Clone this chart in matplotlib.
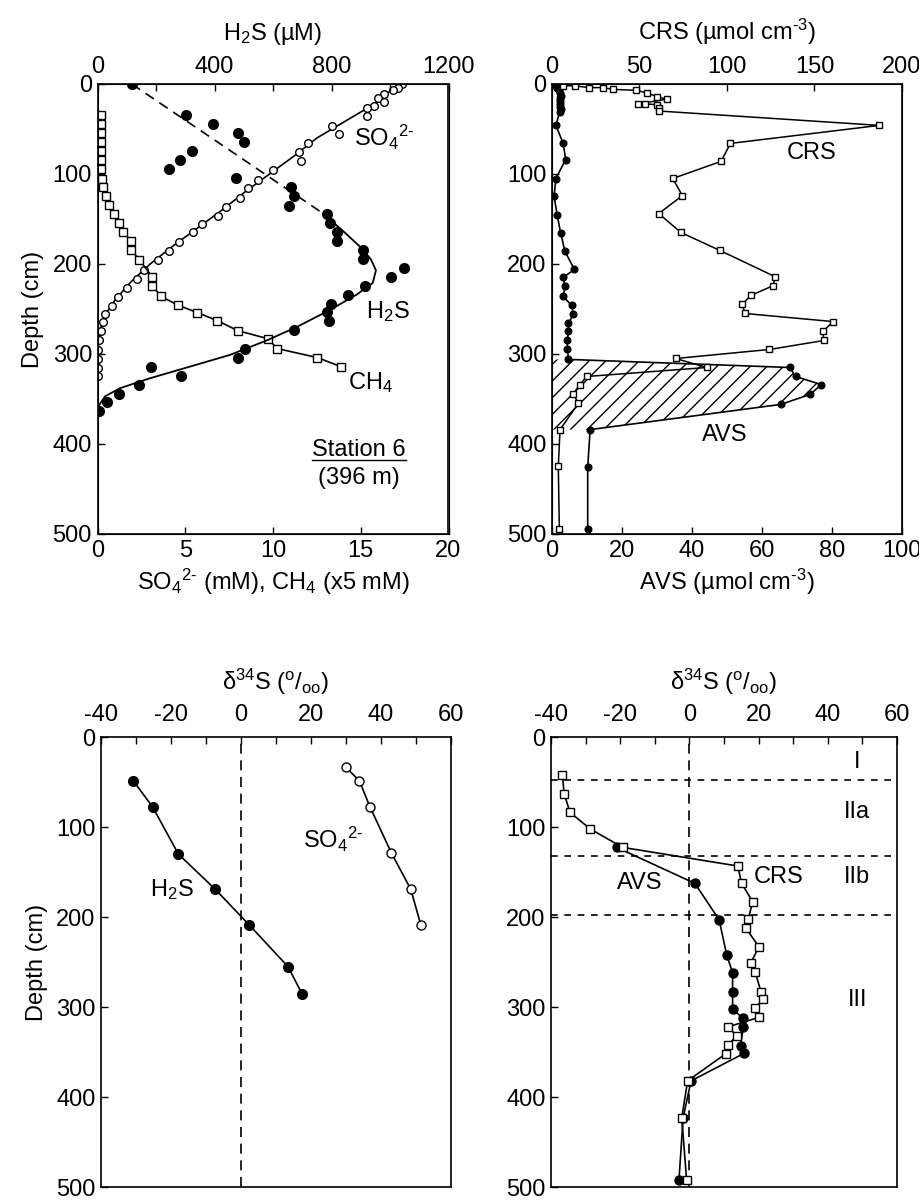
import numpy as np
import matplotlib.pyplot as plt

plt.rcParams['font.family'] = 'Liberation Sans'
plt.rcParams['mathtext.fontset'] = 'custom'
plt.rcParams['mathtext.rm'] = 'Liberation Sans'
plt.rcParams['mathtext.it'] = 'Liberation Sans:italic'
plt.rcParams['mathtext.default'] = 'rm'
plt.rcParams['axes.unicode_minus'] = False
plt.rcParams['hatch.linewidth'] = 1.0

# ---- panel a: porewater ----
h2s_depth = [0, 35, 45, 54, 65, 75, 85, 95, 105, 114, 125, 136, 144, 154, 164, 174, 184, 194,
             205, 215, 225, 235, 245, 253, 263, 273, 294, 304, 314, 324, 335, 344, 353, 363]
h2s_conc = [117, 301, 396, 481, 502, 322, 282, 244, 472, 662, 673, 655, 783, 795, 820, 818, 907, 907,
            1048, 1003, 916, 857, 799, 783, 793, 672, 505, 479, 183, 284, 143, 75, 31, 5]
h2s_fit_depth = [144, 165, 183, 195, 207, 221, 234, 251, 270, 285, 301, 314, 327, 338, 347, 358, 363]
h2s_fit = [772, 845, 905, 935, 952, 941, 886, 795, 681, 578, 453, 316, 179, 77, 26, 3, 0]
h2s_dash_depth = [0, 144]
h2s_dash = [117, 772]

so4_depth = [0, 4, 7, 11.5, 15, 19.6, 24.4, 27, 36, 47, 55, 66, 76, 86, 96, 107, 116, 127, 137, 147,
             156, 165, 176, 186, 196, 207, 217, 227, 237, 247, 256, 265, 275, 285, 296, 306, 316, 325]
so4_conc = [17.33, 17.14, 16.85, 16.32, 16.0, 16.34, 15.75, 15.38, 15.38, 13.34, 13.78, 12.01, 11.48,
            11.6, 10.02, 9.16, 8.56, 8.12, 7.32, 6.85, 5.94, 5.42, 4.66, 4.07, 3.47, 2.65, 2.23, 1.7,
            1.19, 0.81, 0.43, 0.33, 0.18, 0.1, 0.05, 0.05, 0.0, 0.0]
so4_fit_depth = [0, 10, 20, 30, 45, 60, 80, 100, 120, 140, 160, 180, 200, 220, 240, 255, 270, 290, 320]
so4_fit = [17.4, 16.5, 15.9, 15.1, 13.8, 12.5, 11.2, 9.8, 8.4, 7.1, 5.7, 4.3, 3.0, 1.9, 1.0, 0.5, 0.2, 0.05, 0.0]

ch4_depth = [34, 44, 54, 64, 74, 84, 94, 105, 114, 125, 134, 145, 155, 164, 174, 184, 195, 215,
             224, 236, 246, 254, 263, 274, 283, 294, 304, 314]
ch4_conc = [0.2, 0.2, 0.2, 0.2, 0.2, 0.2, 0.2, 0.27, 0.33, 0.47, 0.66, 0.94, 1.2, 1.43, 1.9, 1.9,
            2.38, 3.13, 3.13, 3.62, 4.61, 5.69, 6.83, 7.99, 9.7, 10.25, 12.53, 13.86]

# ---- panel b: solid phase sulfide ----
crs_depth = [2, 2, 4, 4, 6, 7, 10, 14, 17, 22, 22, 23, 27, 30, 46, 66, 86, 105, 124, 144, 165, 185,
             214, 224, 235, 245, 255, 264, 275, 285, 295, 305, 315, 325, 334, 344, 355, 384, 425, 495]
crs = [6.5, 13, 21, 29, 35, 48, 54.5, 60, 65.5, 49, 53, 60, 61, 61, 187, 102, 96.6, 69, 74.5, 61, 73.7,
       96, 127.4, 126.5, 113.5, 108.8, 110.3, 160.8, 154.7, 155.4, 124.2, 70.7, 88.4, 19.8, 16, 12.2,
       15, 4.6, 3.6, 4.2]
avs_depth = [1, 4, 7, 10, 13, 16, 19, 22, 25, 28, 31, 46, 66, 84, 105, 125, 146, 166, 186, 206, 215,
             225, 236, 246, 256, 266, 275, 284, 294, 306, 315, 325, 334, 345, 356, 384, 426, 495]
avs = [1.0, 1.5, 2.0, 2.2, 2.5, 2.3, 2.2, 2.4, 2.3, 2.5, 2.2, 1.1, 3.2, 3.9, 1.1, 0.6, 1.5, 2.5, 3.7,
       6.4, 3.2, 3.7, 3.2, 5.6, 6.1, 4.7, 4.7, 4.4, 4.4, 4.7, 68, 69.6, 77, 73.7, 65.4, 10.9, 10.2, 10.2]
avs_peak_start, avs_peak_end = 29, 36

# ---- panel c: d34S porewater ----
h2s34_depth = [48.5, 78, 130, 169, 209, 255, 285]
h2s34 = [-30.8, -25.2, -17.9, -7.4, 2.4, 13.4, 17.4]
so434_depth = [33.7, 48.5, 78, 129, 169, 209]
so434 = [30, 33.8, 36.9, 43, 48.5, 51.4]

# ---- panel d: d34S solid phase ----
crs34_depth = [42, 63, 83.7, 102, 122.6, 143.3, 162.6, 183, 202.6, 212.6, 233, 251.5, 260.7, 283,
               291.5, 301.5, 311.5, 322, 332, 342, 352, 382, 423, 492]
crs34 = [-36.7, -36.2, -34.5, -28.7, -19.3, 14, 15.1, 18.3, 17, 16.4, 20.1, 17.7, 19, 20.7, 21.2,
         19, 20.1, 11.2, 13.7, 11.2, 10.5, -0.5, -2.2, -0.8]
avs34_depth = [122.6, 162.6, 203, 242, 262, 283, 302.6, 312.6, 322, 343, 351.5, 382, 423, 492]
avs34 = [-21, 1.6, 8.6, 10.8, 12.5, 12.5, 12.5, 15.6, 15.6, 14.8, 15.8, 0.5, -1.8, -3]
zone_bounds = [48, 132, 198]
zone_labels = ['I', 'IIa', 'IIb', 'III']
zone_label_depth = [28, 83, 155, 292]

FS = 17
tick_kw = dict(direction='in', length=5, width=1, labelsize=FS, pad=4)
so4_txt = r'SO$_4$$^{2\text{-}}$'


def depth_axis(ax, label=True):
    ax.set_ylim(500, 0)
    ax.set_yticks(range(0, 501, 100))
    ax.tick_params(axis='y', which='both', **tick_kw)
    if label:
        ax.set_ylabel('Depth (cm)', fontsize=FS, labelpad=6)
    for s in ax.spines.values():
        s.set_linewidth(1.2)


def delta_axis(ax):
    ax.set_xlim(-40, 60)
    ax.xaxis.set_ticks_position('top')
    ax.xaxis.set_label_position('top')
    ax.set_xticks(range(-40, 61, 20))
    ax.set_xticks(range(-30, 60, 20), minor=True)
    ax.tick_params(axis='x', which='both', direction='in', length=5, width=1,
                   labelsize=FS, pad=8)
    ax.set_xlabel(r'$\delta^{34}$S ($^{o}$/$_{oo}$)', fontsize=FS, labelpad=10)
    ax.axvline(0, color='k', lw=1.2, dashes=(6, 4))


fig = plt.figure(figsize=(9.2, 12), dpi=100)

# panel a
ax1 = fig.add_axes([0.106, 0.555, 0.3815, 0.375])
depth_axis(ax1)
ax1.set_xlim(0, 20)
ax1.set_xticks([0, 5, 10, 15, 20])
ax1.tick_params(axis='x', **tick_kw)
ax1.set_xlabel(so4_txt + ' (mM), CH$_4$ (x5 mM)', fontsize=FS, labelpad=4)
ax1.plot(so4_fit, so4_fit_depth, '-', color='k', lw=1.2)
ax1.plot(so4_conc, so4_depth, 'o', mfc='white', mec='k', ms=5.5, mew=1)
ax1.plot(ch4_conc, ch4_depth, 's-', color='k', mfc='white', mec='k', ms=5.5, mew=1, lw=1.2)
ax1t = ax1.twiny()
ax1t.set_xlim(0, 1200)
ax1t.set_xticks([0, 400, 800, 1200])
ax1t.set_xticks([200, 600, 1000], minor=True)
ax1t.tick_params(axis='x', which='both', **tick_kw)
ax1t.set_xlabel('H$_2$S (µM)', fontsize=FS, labelpad=12)
ax1t.plot(h2s_dash, h2s_dash_depth, color='k', lw=1.2, dashes=(6, 4))
ax1t.plot(h2s_fit, h2s_fit_depth, '-', color='k', lw=1.3)
ax1t.plot(h2s_conc, h2s_depth, 'o', color='k', ms=7)
ax1.text(14.6, 59, so4_txt, fontsize=FS, va='center')
ax1.text(15.3, 253, 'H$_2$S', fontsize=FS, va='center')
ax1.text(14.3, 332, 'CH$_4$', fontsize=FS, va='center')
st = ax1.text(14.9, 407, 'Station 6', fontsize=FS, ha='center', va='center')
ax1.text(14.9, 438, '(396 m)', fontsize=FS, ha='center', va='center')

# panel b
ax2 = fig.add_axes([0.6, 0.555, 0.3804, 0.375])
depth_axis(ax2, label=False)
ax2.set_xlim(0, 100)
ax2.set_xticks([0, 20, 40, 60, 80, 100])
ax2.tick_params(axis='x', **tick_kw)
ax2.set_xlabel('AVS (µmol cm$^{\\text{-}3}$)', fontsize=FS, labelpad=4)
ax2.fill_betweenx(avs_depth[avs_peak_start:avs_peak_end], 0, avs[avs_peak_start:avs_peak_end],
                  facecolor='none', edgecolor='k', hatch='//', linewidth=0)
ax2.plot(avs, avs_depth, 'o-', color='k', ms=4.8, lw=1.2)
ax2t = ax2.twiny()
ax2t.set_xlim(0, 200)
ax2t.set_xticks([0, 50, 100, 150, 200])
ax2t.tick_params(axis='x', **tick_kw)
ax2t.set_xlabel('CRS (µmol cm$^{\\text{-}3}$)', fontsize=FS, labelpad=12)
ax2t.plot(crs, crs_depth, 's-', color='k', mfc='white', mec='k', ms=4.5, mew=1, lw=1.1)
ax2.text(74.2, 77, 'CRS', fontsize=FS, ha='center', va='center')
ax2.text(49.4, 390, 'AVS', fontsize=FS, ha='center', va='center')

# panel c
ax3 = fig.add_axes([0.1098, 0.0108, 0.3804, 0.375])
depth_axis(ax3)
delta_axis(ax3)
ax3.plot(h2s34, h2s34_depth, 'o-', color='k', ms=7, lw=1.2)
ax3.plot(so434, so434_depth, 'o-', color='k', mfc='white', mec='k', ms=6.5, mew=1, lw=1.2)
ax3.text(17.7, 114, so4_txt, fontsize=FS, va='center')
ax3.text(-26, 170, 'H$_2$S', fontsize=FS, va='center')

# panel d
ax4 = fig.add_axes([0.5989, 0.0108, 0.376, 0.375])
depth_axis(ax4, label=False)
delta_axis(ax4)
for zb in zone_bounds:
    ax4.axhline(zb, color='k', lw=1.2, dashes=(4, 4))
for lab, zd in zip(zone_labels, zone_label_depth):
    ax4.text(48.5, zd, lab, fontsize=FS, ha='center', va='center')
ax4.plot(avs34, avs34_depth, 'o-', color='k', ms=6.5, lw=1.2)
ax4.plot(crs34, crs34_depth, 's-', color='k', mfc='white', mec='k', ms=6, mew=1, lw=1.2)
ax4.text(-14.3, 162, 'AVS', fontsize=FS, ha='center', va='center')
ax4.text(25.7, 155, 'CRS', fontsize=FS, ha='center', va='center')

# underline for station label
fig.canvas.draw()
bb = st.get_window_extent().transformed(ax1.transData.inverted())
uy = max(bb.y0, bb.y1) - 1
ax1.plot([bb.x0, bb.x1], [uy, uy], color='k', lw=1)

fig.savefig('out.png', dpi=100)
